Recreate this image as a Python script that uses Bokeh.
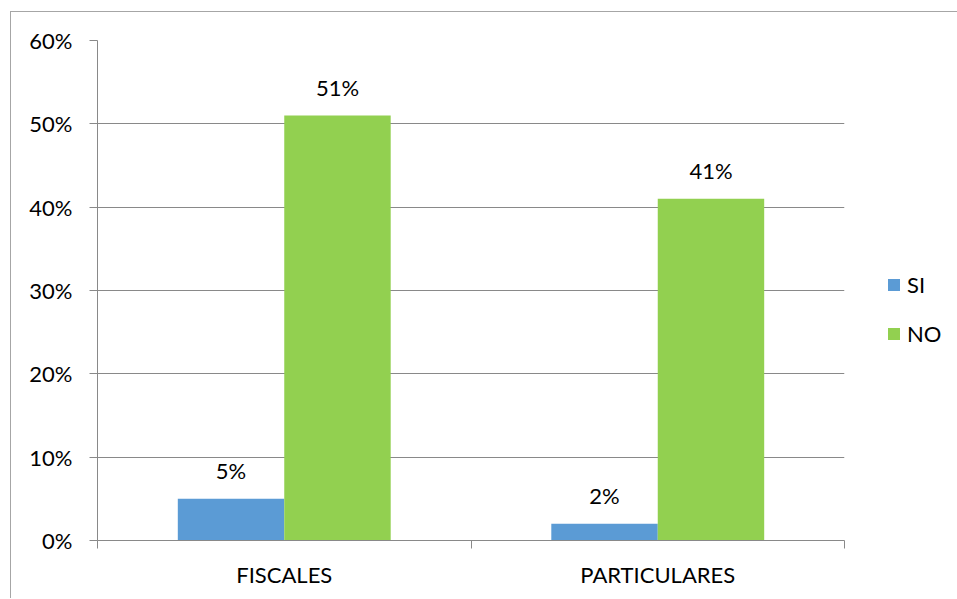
from bokeh.plotting import figure
from bokeh.models import (ColumnDataSource, FixedTicker, NumeralTickFormatter, Legend,
                          LegendItem, Range1d, LabelSet)
from bokeh.transform import dodge
from bokeh.core.properties import value
from bokeh.embed import file_html
from bokeh.resources import INLINE

categories = ["FISCALES", "PARTICULARES"]
si_values = [0.05, 0.02]
no_values = [0.51, 0.41]
si_labels = ["5%", "2%"]
no_labels = ["51%", "41%"]
y_ticks = [0, 0.1, 0.2, 0.3, 0.4, 0.5, 0.6]

FONT = "Lato"
FS = "22px"
GRID = "#898989"
xpos = [i + 0.5 for i in range(len(categories))]

src = ColumnDataSource(dict(x=xpos, si=si_values, no=no_values,
                            si_lab=si_labels, no_lab=no_labels))

p = figure(frame_width=747, frame_height=500, output_backend="svg", toolbar_location=None,
           x_range=Range1d(0, len(categories)), y_range=Range1d(0, 0.6),
           min_border_left=86, min_border_right=0, min_border_top=28,
           min_border_bottom=58, margin=(11, 0, 0, 10))
p.styles = {"border-left": "1px solid #a6a6a6", "border-top": "1px solid #a6a6a6"}
p.outline_line_color = None
p.background_fill_color = "white"

bw = 0.285
r_si = p.vbar(x=dodge("x", -bw / 2, range=p.x_range), top="si", width=bw, source=src,
              fill_color="#5B9BD5", line_color=None)
r_no = p.vbar(x=dodge("x", bw / 2, range=p.x_range), top="no", width=bw, source=src,
              fill_color="#92D050", line_color=None)

for col, lab, off in (("si", "si_lab", -bw / 2), ("no", "no_lab", bw / 2)):
    p.add_layout(LabelSet(x=dodge("x", off, range=p.x_range), y=col, text=lab, source=src,
                          text_align="center", text_baseline="alphabetic", y_offset=20,
                          text_font=value(FONT), text_font_size=FS, text_color="black"))

# y axis
p.yaxis.ticker = FixedTicker(ticks=y_ticks)
p.yaxis.formatter = NumeralTickFormatter(format="0%")
p.yaxis.axis_line_color = GRID
p.yaxis.major_tick_line_color = GRID
p.yaxis.major_tick_out = 8
p.yaxis.major_tick_in = 0
p.yaxis.minor_tick_line_color = None
p.yaxis.major_label_text_font = FONT
p.yaxis.major_label_text_font_size = FS
p.yaxis.major_label_text_color = "black"
p.yaxis.major_label_standoff = 17

# x axis
p.xaxis.ticker = FixedTicker(ticks=xpos, minor_ticks=[0, 1, 2])
p.xaxis.major_label_overrides = {x: c for x, c in zip(xpos, categories)}
p.xaxis.major_tick_line_color = None
p.xaxis.minor_tick_line_color = GRID
p.xaxis.minor_tick_out = 8
p.xaxis.minor_tick_in = 0
p.xaxis.axis_line_color = GRID
p.xaxis.major_label_text_font = FONT
p.xaxis.major_label_text_font_size = FS
p.xaxis.major_label_text_color = "black"
p.xaxis.major_label_standoff = 12

p.xgrid.grid_line_color = None
p.ygrid.ticker = FixedTicker(ticks=y_ticks)
p.ygrid.grid_line_color = GRID

legend = Legend(items=[LegendItem(label="SI", renderers=[r_si]),
                       LegendItem(label="NO", renderers=[r_no])],
                location=(42, 193), padding=0, margin=0, spacing=22,
                glyph_width=15, glyph_height=15, label_height=15, label_standoff=6,
                border_line_color=None, background_fill_alpha=0,
                label_text_font=FONT, label_text_font_size=FS,
                label_text_color="black")
p.add_layout(legend, "right")

open("out.html", "w").write(file_html(p, INLINE))
